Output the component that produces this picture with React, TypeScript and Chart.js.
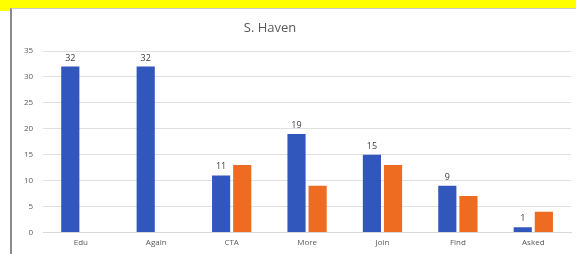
import React, { useEffect, useRef } from "react";
import { Chart, registerables } from "chart.js";

Chart.register(...registerables);

const titleText = "S. Haven";
const categories = ["Edu", "Again", "CTA", "More", "Join", "Find", "Asked"];
const blueValues = [32, 32, 11, 19, 15, 9, 1];
const orangeValues = [0, 0, 13, 9, 13, 7, 4];
const yMax = 35;
const yStep = 5;

const FONT = "'Open Sans', 'Liberation Sans', sans-serif";

const labelPlugin = {
  id: "customLabels",
  afterDraw(chart: any) {
    const ctx = chart.ctx;
    const area = chart.chartArea;
    ctx.save();
    // title
    ctx.fillStyle = "#595959";
    ctx.font = `13px ${FONT}`;
    ctx.textAlign = "center";
    ctx.textBaseline = "middle";
    ctx.fillText(titleText, (area.left + area.right) / 2 - 37, 19);
    // data labels on first dataset
    const meta = chart.getDatasetMeta(0);
    ctx.font = `9px ${FONT}`;
    ctx.fillStyle = "#404040";
    ctx.textBaseline = "bottom";
    meta.data.forEach((bar: any, i: number) => {
      ctx.fillText(String(blueValues[i]), bar.x, bar.y - 4);
    });
    ctx.restore();
  },
};

export default function App() {
  const ref = useRef<HTMLCanvasElement>(null);
  useEffect(() => {
    const chart = new Chart(ref.current!, {
      type: "bar",
      data: {
        labels: categories,
        datasets: [
          {
            data: blueValues,
            backgroundColor: "#3157bd",
            categoryPercentage: 0.56,
            barPercentage: 0.86,
          },
          {
            data: orangeValues,
            backgroundColor: "#ee6b22",
            categoryPercentage: 0.56,
            barPercentage: 0.86,
          },
        ],
      },
      options: {
        responsive: false,
        animation: false,
        layout: { padding: { left: 2, right: 5, top: 42, bottom: 0 } },
        plugins: {
          legend: { display: false },
          title: { display: false },
          tooltip: { enabled: false },
        },
        scales: {
          x: {
            grid: { display: false, drawTicks: false },
            border: { display: true, color: "#d9d9d9" },
            ticks: { color: "#595959", font: { size: 8, family: FONT }, padding: 6 },
          },
          y: {
            min: 0,
            max: yMax,
            grid: { color: "#e0e0e0", drawTicks: false },
            border: { display: false },
            ticks: {
              stepSize: yStep,
              color: "#595959",
              font: { size: 8, family: FONT },
              padding: 10,
            },
          },
        },
      },
      plugins: [labelPlugin],
    });
    return () => chart.destroy();
  }, []);

  return (
    <div
      style={{
        position: "fixed",
        left: 0,
        top: 0,
        width: 576,
        height: 254,
        background: "#ffffff",
        overflow: "hidden",
      }}
    >
      <div style={{ position: "absolute", left: 0, top: 0, width: 576, height: 8, background: "#ffff00" }} />
      <div style={{ position: "absolute", left: 0, top: 0, width: 11, height: 11, background: "#ffff00" }} />
      <div
        style={{
          position: "absolute",
          left: 10,
          top: 8,
          width: 566,
          height: 246,
          borderLeft: "2px solid #8a8a8a",
          borderTop: "1px solid #c8c8c8",
          background: "#ffffff",
        }}
      >
        <canvas ref={ref} width={564} height={245} style={{ display: "block" }} />
      </div>
    </div>
  );
}
